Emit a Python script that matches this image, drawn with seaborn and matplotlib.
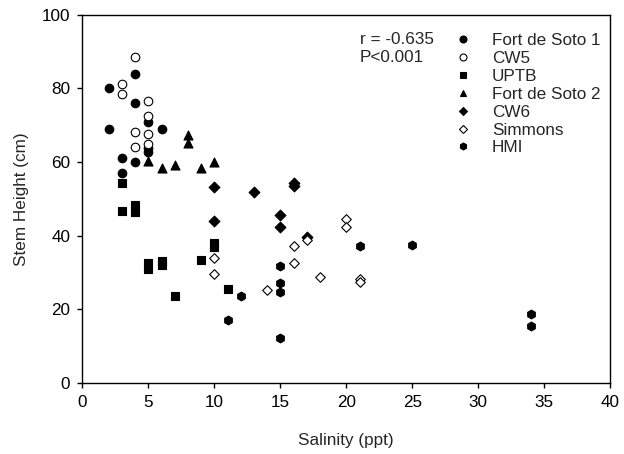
import matplotlib
matplotlib.use("Agg")
import matplotlib.pyplot as plt
from matplotlib.lines import Line2D
import seaborn as sns
import pandas as pd

sns.set_style("ticks")
plt.rcParams['font.family'] = ['Liberation Sans', 'DejaVu Sans']
plt.rcParams['font.size'] = 12.3

# ---- data (salinity ppt, stem height cm) ----
fds1_x = [2, 2, 3, 3, 4, 4, 4, 5, 5, 5, 6]
fds1_y = [80, 69, 61, 57, 84, 76, 60, 71, 63.8, 62.8, 69]

cw5_x = [3, 3, 4, 4, 4, 5, 5, 5, 5]
cw5_y = [81.2, 78.5, 88.5, 68.2, 64.1, 76.5, 72.4, 67.6, 64.8]

uptb_x = [3, 3, 4, 4, 5, 5, 6, 6, 7, 9, 10, 10, 11]
uptb_y = [54.2, 46.7, 48.2, 46.5, 32.5, 31.0, 33.0, 32.0, 23.5, 33.3, 38.0, 37.0, 25.5]

fds2_x = [5, 6, 7, 8, 8, 9, 10]
fds2_y = [60.2, 58.3, 59.2, 67.3, 65.2, 58.3, 60.1]

cw6_x = [10, 10, 13, 15, 15, 16, 16, 17]
cw6_y = [53.1, 44.0, 51.9, 45.6, 42.4, 54.2, 53.4, 39.7]

simm_x = [10, 10, 14, 16, 16, 17, 18, 20, 20, 21, 21]
simm_y = [34.0, 29.7, 25.3, 37.2, 32.7, 38.8, 28.9, 44.6, 42.4, 28.3, 27.5]

hmi_x = [11, 12, 15, 15, 15, 15, 21, 25, 34, 34]
hmi_y = [17.0, 23.6, 31.7, 27.1, 24.6, 12.1, 37.2, 37.5, 18.6, 15.4]

site_names = ["Fort de Soto 1", "CW5", "UPTB", "Fort de Soto 2", "CW6", "Simmons", "HMI"]
xs = [fds1_x, cw5_x, uptb_x, fds2_x, cw6_x, simm_x, hmi_x]
ys = [fds1_y, cw5_y, uptb_y, fds2_y, cw6_y, simm_y, hmi_y]

x_ticks = [0, 5, 10, 15, 20, 25, 30, 35, 40]
y_ticks = [0, 20, 40, 60, 80, 100]
stat_lines = ["r = -0.635", "P<0.001"]

rows = []
for name, xv, yv in zip(site_names, xs, ys):
    for a, b in zip(xv, yv):
        rows.append({"Site": name, "Salinity": a, "Height": b})
df = pd.DataFrame(rows)

styles = {
    "Fort de Soto 1": dict(marker="o", s=38, fc="black"),
    "CW5": dict(marker="o", s=38, fc="white"),
    "UPTB": dict(marker="s", s=32, fc="black"),
    "Fort de Soto 2": dict(marker="^", s=42, fc="black"),
    "CW6": dict(marker="D", s=30, fc="black"),
    "Simmons": dict(marker="D", s=24, fc="white"),
    "HMI": dict(marker="h", s=40, fc="black"),
}

fig = plt.figure(figsize=(6.24, 4.54), dpi=100)
ax = fig.add_axes([82.3 / 624, 1 - 383 / 454, 528 / 624, 368.3 / 454])

for name in site_names:
    st = styles[name]
    sub = df[df["Site"] == name]
    sns.scatterplot(data=sub, x="Salinity", y="Height", ax=ax,
                    marker=st["marker"], s=st["s"], color=st["fc"],
                    edgecolor="black", linewidth=0.8, zorder=3, legend=False)

ax.set_xlim(0, 40)
ax.set_ylim(0, 100)
ax.set_xticks(x_ticks)
ax.set_yticks(y_ticks)
ax.tick_params(direction="out", length=3.6, width=1, color="black", pad=5,
               labelsize=12.3, labelcolor="black")
for sp in ax.spines.values():
    sp.set_visible(True)
    sp.set_color("black")
    sp.set_linewidth(1)

ax.set_xlabel("Salinity (ppt)", fontsize=12.3)
ax.set_ylabel("Stem Height (cm)", fontsize=12.3)
ax.xaxis.set_label_coords(0.5, -0.155)
ax.xaxis.label.set_va("center")
ax.yaxis.set_label_coords(-0.115, 0.5)
ax.yaxis.label.set_va("center")

# legend
handles = []
for name in site_names:
    st = styles[name]
    handles.append(Line2D([], [], linestyle="none", marker=st["marker"],
                          markersize=5.0 if st["marker"] != "D" else 4.2,
                          markerfacecolor=st["fc"], markeredgecolor="black",
                          markeredgewidth=0.8))
leg = fig.legend(handles, site_names, loc="upper left",
                 bbox_to_anchor=(454.5 / 624, 1 - 33.0 / 454),
                 frameon=False, fontsize=12.3, handlelength=1.0,
                 handletextpad=1.19, labelspacing=0.17, borderpad=0,
                 borderaxespad=0)

fig.text(360 / 624, 1 - 40 / 454, stat_lines[0], fontsize=12.3, va="center", ha="left")
fig.text(360 / 624, 1 - 57.7 / 454, stat_lines[1], fontsize=12.3, va="center", ha="left")

fig.savefig("out.png", dpi=100)
